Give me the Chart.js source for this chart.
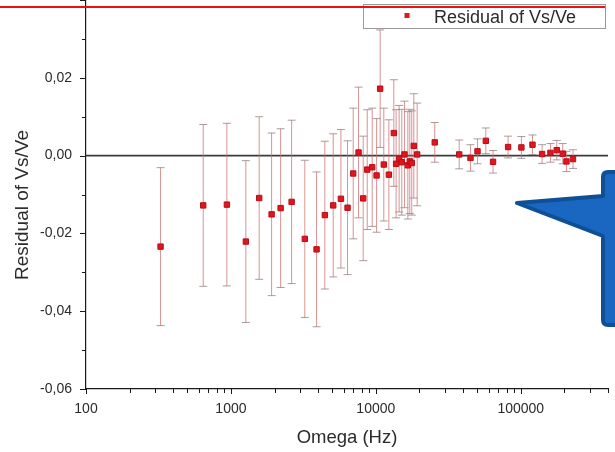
<!DOCTYPE html>
<html>
<head>
<meta charset="utf-8">
<script src="https://cdn.jsdelivr.net/npm/chart.js@4.4.1/dist/chart.umd.min.js"></script>
<style>
  html, body { margin: 0; padding: 0; background: #fff; }
  canvas { display: block; }
</style>
</head>
<body>
<canvas id="residualChart" width="615" height="452"></canvas>
<script>
// values
const omega = [327, 644, 938, 1268, 1567, 1909, 2203, 2624, 3236, 3900,
  4447, 5080, 5740, 6380, 6980, 7600, 8180, 8720, 9440, 10120,
  10710, 11350, 12300, 13310, 13800, 14480, 15100, 15760, 16630, 17150,
  17700, 18280, 19280, 25500, 37600, 45000, 50300, 57400, 64400, 81800,
  101000, 120500, 140400, 160300, 177200, 194900, 206700, 229400];
const residual = [-0.0234, -0.0128, -0.0126, -0.0221, -0.0109, -0.0151, -0.0135, -0.0119, -0.0214, -0.0241,
  -0.0153, -0.0128, -0.0111, -0.0134, -0.0046, 0.0008, -0.0110, -0.0036, -0.0030, -0.0051,
  0.0172, -0.0023, -0.0049, 0.0058, -0.0021, -0.0008, -0.0017, 0.0003, -0.0025, -0.0015,
  -0.0019, 0.0025, 0.0003, 0.0034, 0.0003, -0.0006, 0.0011, 0.0038, -0.0016, 0.0022,
  0.0021, 0.0028, 0.0004, 0.0007, 0.0014, 0.0005, -0.0015, -0.0009];
const residualErr = [0.0203, 0.0208, 0.0209, 0.0208, 0.0209, 0.0209, 0.0204, 0.0210, 0.0202, 0.0199,
  0.0190, 0.0184, 0.0178, 0.0172, 0.0168, 0.0168, 0.0160, 0.0154, 0.0152, 0.0146,
  0.0151, 0.0145, 0.0141, 0.0137, 0.0139, 0.0137, 0.0136, 0.0137, 0.0138, 0.0134,
  0.0134, 0.0134, 0.0132, 0.0051, 0.0037, 0.0034, 0.0032, 0.0033, 0.0029, 0.0028,
  0.0028, 0.0025, 0.0024, 0.0024, 0.0025, 0.0026, 0.0026, 0.0024];

const xTickLabels = [100, 1000, 10000, 100000];
const yTickLabels = [-0.06, -0.04, -0.02, 0, 0.02];
const seriesName = 'Residual of Vs/Ve';

const FONT = '"Liberation Sans", Arial, sans-serif';
const TEXT = '#2b2b2b';

// minor ticks 2..9 of each decade, up to the axis end
const xAllTicks = [];
for (let e = 2; e <= 5; e++) {
  for (let d = 1; d <= 9; d++) {
    const v = d * Math.pow(10, e);
    if (v <= 400000) xAllTicks.push(v);
  }
}

function isYLabel(v) {
  return yTickLabels.some(t => Math.abs(t - v) < 1e-9);
}

function fmtComma(v) {
  const s = (Math.abs(v) < 1e-9 ? 0 : v).toFixed(2);
  return s.replace('.', ',');
}

// the point overflow would push the plot top down a few px; the reference plot starts at the edge
try {
  const Scatter = Chart.registry.getController('scatter');
  Scatter.prototype.getMaxOverflow = function () { return 0; };
} catch (e) {
  console.error('could not patch overflow', e);
}

// tick marks, zero line, error bars
const marksPlugin = {
  id: 'marks',
  beforeDatasetsDraw(chart) {
    const {ctx, chartArea} = chart;
    const xs = chart.scales.x, ys = chart.scales.y;
    ctx.save();

    // zero reference line
    const y0 = ys.getPixelForValue(0);
    ctx.strokeStyle = '#3c3c3c';
    ctx.lineWidth = 1.8;
    ctx.beginPath();
    ctx.moveTo(chartArea.left, y0);
    ctx.lineTo(chartArea.right, y0);
    ctx.stroke();

    // error bars
    omega.forEach((w, i) => {
      const px = xs.getPixelForValue(w);
      const top = ys.getPixelForValue(residual[i] + residualErr[i]);
      const bot = ys.getPixelForValue(residual[i] - residualErr[i]);
      ctx.strokeStyle = 'rgba(205, 110, 110, 0.75)';
      ctx.lineWidth = 1;
      ctx.beginPath();
      ctx.moveTo(px, top);
      ctx.lineTo(px, bot);
      ctx.stroke();
      ctx.strokeStyle = 'rgba(150, 130, 130, 0.8)';
      ctx.beginPath();
      ctx.moveTo(px - 4, top); ctx.lineTo(px + 4, top);
      ctx.moveTo(px - 4, bot); ctx.lineTo(px + 4, bot);
      ctx.stroke();
    });
    ctx.restore();
  },
  afterDraw(chart) {
    const {ctx, chartArea} = chart;
    const xs = chart.scales.x, ys = chart.scales.y;
    ctx.save();
    ctx.strokeStyle = '#1a1a1a';
    ctx.lineWidth = 1;

    // axis ticks, outward
    ctx.beginPath();
    xs.ticks.forEach(t => {
      const px = Math.round(xs.getPixelForValue(t.value)) + 0.5;
      const len = xTickLabels.includes(t.value) ? 5 : 4;
      ctx.moveTo(px, chartArea.bottom);
      ctx.lineTo(px, chartArea.bottom + len);
    });
    ys.ticks.forEach(t => {
      const py = Math.round(ys.getPixelForValue(t.value)) + 0.5;
      const len = isYLabel(t.value) || Math.abs(t.value - 0.04) < 1e-9 ? 6 : 4;
      ctx.moveTo(chartArea.left, py);
      ctx.lineTo(chartArea.left - len, py);
    });
    ctx.stroke();

    // y title
    ctx.fillStyle = TEXT;
    ctx.font = '19px ' + FONT;
    ctx.textAlign = 'center';
    ctx.textBaseline = 'middle';
    ctx.translate(23, 205);
    ctx.rotate(-Math.PI / 2);
    ctx.fillText(seriesName, 0, 0);
    ctx.restore();

    // legend box
    ctx.save();
    ctx.fillStyle = '#fff';
    ctx.strokeStyle = '#9a9a9a';
    ctx.lineWidth = 1;
    ctx.fillRect(363.5, 4.5, 242, 24);
    ctx.strokeRect(363.5, 4.5, 242, 24);
    const ds = chart.data.datasets[0];
    ctx.fillStyle = ds.backgroundColor;
    ctx.fillRect(404.5, 13, 5, 5);
    ctx.fillStyle = TEXT;
    ctx.font = '18px ' + FONT;
    ctx.textAlign = 'left';
    ctx.textBaseline = 'alphabetic';
    ctx.fillText(ds.label, 434, 23);

    // red rule across the top of the slide
    ctx.strokeStyle = '#ee1111';
    ctx.lineWidth = 2;
    ctx.beginPath();
    ctx.moveTo(0, 7);
    ctx.lineTo(605, 7);
    ctx.stroke();

    // blue callout on the right
    ctx.fillStyle = '#1a67c2';
    ctx.strokeStyle = '#0e4f96';
    ctx.lineWidth = 4;
    ctx.lineJoin = 'round';
    ctx.beginPath();
    ctx.moveTo(640, 172);
    ctx.lineTo(608, 172);
    ctx.quadraticCurveTo(603, 172, 603, 177);
    ctx.lineTo(603, 196);
    ctx.lineTo(517, 203);
    ctx.lineTo(603, 236);
    ctx.lineTo(603, 320);
    ctx.quadraticCurveTo(603, 325, 608, 325);
    ctx.lineTo(640, 325);
    ctx.closePath();
    ctx.fill();
    ctx.stroke();
    ctx.restore();
  }
};

const ctx = document.getElementById('residualChart');
new Chart(ctx, {
  type: 'scatter',
  data: {
    datasets: [{
      label: seriesName,
      data: omega.map((w, i) => ({x: w, y: residual[i]})),
      pointStyle: 'rect',
      pointRadius: 3.8,
      pointHoverRadius: 3.8,
      backgroundColor: '#e3141b',
      borderColor: '#b3101a',
      borderWidth: 1,
      clip: false
    }]
  },
  options: {
    responsive: false,
    animation: false,
    layout: { padding: { top: 0, right: 7, left: 0, bottom: 0 } },
    plugins: {
      legend: { display: false },
      tooltip: { enabled: false }
    },
    scales: {
      x: {
        type: 'logarithmic',
        min: 100,
        max: 400000,
        afterBuildTicks: (scale) => {
          scale.ticks = xAllTicks.map(v => ({value: v}));
        },
        afterFit: (scale) => {
          scale.height = 63;
          scale.paddingLeft = 0;
          scale.paddingRight = 0;
        },
        grid: { display: false, drawTicks: false },
        border: { display: true, color: '#1a1a1a', width: 1.2 },
        ticks: {
          autoSkip: false,
          maxRotation: 0,
          padding: 12,
          color: TEXT,
          font: { family: FONT, size: 14 },
          callback: (v) => xTickLabels.includes(v) ? String(v) : ''
        },
        title: {
          display: true,
          text: 'Omega (Hz)',
          color: TEXT,
          font: { family: FONT, size: 18.5 },
          padding: { top: 0, bottom: 3 }
        }
      },
      y: {
        min: -0.06,
        max: 0.04,
        afterFit: (scale) => {
          scale.width = 86;
          scale.paddingTop = 0;
          scale.paddingBottom = 0;
        },
        grid: { display: false, drawTicks: false },
        border: { display: true, color: '#1a1a1a', width: 1.2 },
        ticks: {
          stepSize: 0.01,
          autoSkip: false,
          padding: 14,
          color: TEXT,
          font: { family: FONT, size: 14 },
          callback: (v) => isYLabel(v) ? fmtComma(v) : ''
        }
      }
    }
  },
  plugins: [marksPlugin]
});
</script>
</body>
</html>
